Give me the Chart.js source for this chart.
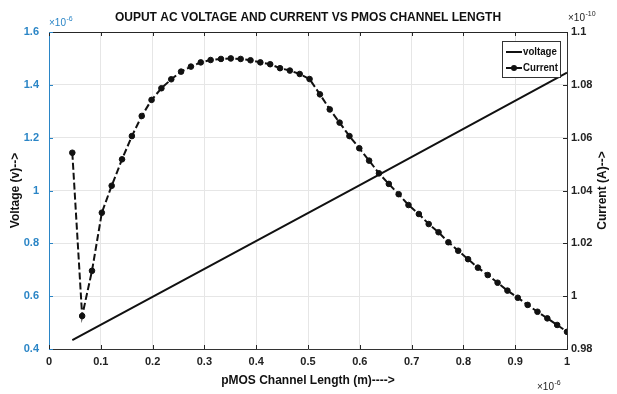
<!DOCTYPE html>
<html>
<head>
<meta charset="utf-8">
<script src="https://cdn.jsdelivr.net/npm/chart.js@4/dist/chart.umd.min.js"></script>
<style>
  html, body { margin: 0; padding: 0; background: #fff; }
  #wrap { width: 617px; height: 394px; }
</style>
</head>
<body>
<div id="wrap"><canvas id="c" width="617" height="394"></canvas></div>
<script>
// ---- data ----
const channelLength = [0.045, 0.064, 0.083, 0.102, 0.121, 0.141, 0.160, 0.179, 0.198, 0.217,
  0.236, 0.255, 0.274, 0.293, 0.312, 0.332, 0.351, 0.370, 0.389, 0.408,
  0.427, 0.446, 0.465, 0.484, 0.503, 0.523, 0.542, 0.561, 0.580, 0.599,
  0.618, 0.637, 0.656, 0.675, 0.694, 0.714, 0.733, 0.752, 0.771, 0.790,
  0.809, 0.828, 0.847, 0.866, 0.885, 0.905, 0.924, 0.943, 0.962, 0.981, 1.000];
const currentValues = [1.0543, 0.9925, 1.0096, 1.0316, 1.0418, 1.0518, 1.0606, 1.0682, 1.0743, 1.0787,
  1.0821, 1.0850, 1.0869, 1.0885, 1.0894, 1.0898, 1.0900, 1.0898, 1.0893, 1.0885,
  1.0878, 1.0863, 1.0854, 1.0841, 1.0822, 1.0764, 1.0707, 1.0657, 1.0606, 1.0560,
  1.0513, 1.0465, 1.0425, 1.0386, 1.0345, 1.0311, 1.0273, 1.0242, 1.0204, 1.0172,
  1.0140, 1.0108, 1.0080, 1.0051, 1.0021, 0.9994, 0.9967, 0.9941, 0.9916, 0.9891, 0.9865];
const voltageLength = [0.045, 0.6, 1.0];
const voltageValues = [0.434, 1.02, 1.446];
const xTickValues = [0, 0.1, 0.2, 0.3, 0.4, 0.5, 0.6, 0.7, 0.8, 0.9, 1];
const voltageTicks = [0.4, 0.6, 0.8, 1, 1.2, 1.4, 1.6];
const currentTicks = [0.98, 1, 1.02, 1.04, 1.06, 1.08, 1.1];
const titleText = 'OUPUT AC VOLTAGE AND CURRENT VS PMOS CHANNEL LENGTH';
const xTitle = 'pMOS Channel Length (m)---->';
const yTitle = 'Voltage (v)-->';
const y1Title = 'Current (A)-->';
const seriesNames = ['voltage', 'Current'];

const BLUE = '#2a85c6';
const FONT = '"Liberation Sans", Arial, sans-serif';
const fmt = v => String(+Number(v).toFixed(2));

const extrasPlugin = {
  id: 'extras',
  afterDraw(chart) {
    const ctx = chart.ctx;
    const a = chart.chartArea;
    ctx.save();
    // top border
    ctx.strokeStyle = '#262626';
    ctx.lineWidth = 1;
    ctx.beginPath();
    ctx.moveTo(a.left, a.top + 0.5);
    ctx.lineTo(a.right, a.top + 0.5);
    ctx.stroke();
    // inward tick marks
    const xs = chart.scales.x, ys = chart.scales.y, y1 = chart.scales.y1;
    ctx.beginPath();
    xs.ticks.forEach(t => {
      const px = Math.round(xs.getPixelForValue(t.value)) + 0.5;
      ctx.moveTo(px, a.bottom); ctx.lineTo(px, a.bottom - 4);
      ctx.moveTo(px, a.top); ctx.lineTo(px, a.top + 4);
    });
    y1.ticks.forEach(t => {
      const py = Math.round(y1.getPixelForValue(t.value)) + 0.5;
      ctx.moveTo(a.right, py); ctx.lineTo(a.right - 4, py);
    });
    ctx.stroke();
    ctx.strokeStyle = BLUE;
    ctx.beginPath();
    ys.ticks.forEach(t => {
      const py = Math.round(ys.getPixelForValue(t.value)) + 0.5;
      ctx.moveTo(a.left, py); ctx.lineTo(a.left + 4, py);
    });
    ctx.stroke();

    // title
    ctx.fillStyle = '#111';
    ctx.font = 'bold 12px ' + FONT;
    ctx.textAlign = 'center';
    ctx.textBaseline = 'middle';
    ctx.fillText(titleText, (a.left + a.right) / 2, 18);

    // right axis title (rotated -90)
    ctx.save();
    ctx.translate(603, (a.top + a.bottom) / 2);
    ctx.rotate(-Math.PI / 2);
    ctx.font = 'bold 12px ' + FONT;
    ctx.fillText(y1Title, 0, 0);
    ctx.restore();

    // exponent labels
    function expLabel(x, y, pow, color) {
      ctx.fillStyle = color;
      ctx.textAlign = 'left';
      ctx.textBaseline = 'alphabetic';
      ctx.font = '10px ' + FONT;
      ctx.fillText('\u00d710', x, y);
      const w = ctx.measureText('\u00d710').width;
      ctx.font = '7px ' + FONT;
      ctx.fillText(pow, x + w + 0.5, y - 5);
    }
    expLabel(a.left, 26, '-6', BLUE);
    expLabel(a.right + 1, 21, '-10', '#222');
    expLabel(a.right - 30, 390, '-6', '#222');

    // legend
    const lx = 502, ly = 41, lw = 58, lh = 36;
    ctx.fillStyle = '#fff';
    ctx.fillRect(lx, ly, lw, lh);
    ctx.strokeStyle = '#333';
    ctx.lineWidth = 1;
    ctx.strokeRect(lx + 0.5, ly + 0.5, lw, lh);
    ctx.strokeStyle = '#111';
    ctx.lineWidth = 2;
    ctx.beginPath();
    ctx.moveTo(lx + 4, ly + 11); ctx.lineTo(lx + 20, ly + 11);
    ctx.moveTo(lx + 4, ly + 27); ctx.lineTo(lx + 20, ly + 27);
    ctx.stroke();
    ctx.fillStyle = '#111';
    ctx.beginPath();
    ctx.arc(lx + 12, ly + 27, 3, 0, Math.PI * 2);
    ctx.fill();
    ctx.font = 'bold 11px ' + FONT;
    ctx.textAlign = 'left';
    ctx.textBaseline = 'middle';
    ctx.save();
    ctx.translate(lx + 21, ly + 11); ctx.scale(0.88, 1);
    ctx.fillText(seriesNames[0], 0, 0);
    ctx.restore();
    ctx.save();
    ctx.translate(lx + 21, ly + 27); ctx.scale(0.88, 1);
    ctx.fillText(seriesNames[1], 0, 0);
    ctx.restore();
    ctx.restore();
  }
};

new Chart(document.getElementById('c'), {
  type: 'scatter',
  data: {
    datasets: [
      {
        label: seriesNames[0],
        data: voltageLength.map((x, i) => ({ x, y: voltageValues[i] })),
        yAxisID: 'y',
        showLine: true,
        borderColor: '#111',
        borderWidth: 2,
        pointRadius: 0,
        fill: false,
        order: 2
      },
      {
        label: seriesNames[1],
        data: channelLength.map((x, i) => ({ x, y: currentValues[i] })),
        yAxisID: 'y1',
        showLine: true,
        borderColor: '#111',
        borderWidth: 2,
        borderDash: [7, 3],
        pointRadius: 2.8,
        pointBackgroundColor: '#111',
        pointBorderColor: '#111',
        pointBorderWidth: 1,
        fill: false,
        order: 1
      }
    ]
  },
  options: {
    responsive: false,
    animation: false,
    layout: { padding: { top: 32, left: 0, right: 0, bottom: 0 } },
    plugins: {
      legend: { display: false },
      title: { display: false },
      tooltip: { enabled: false }
    },
    scales: {
      x: {
        type: 'linear',
        min: 0, max: 1,
        afterBuildTicks: s => { s.ticks = xTickValues.map(v => ({ value: v })); },
        afterFit: s => { s.height = 45; },
        grid: { color: '#e6e6e6', drawTicks: false },
        border: { color: '#333', width: 1 },
        ticks: { color: '#222', padding: 6, callback: fmt, font: { family: FONT, size: 11, weight: 'bold' } },
        title: { display: true, text: xTitle, color: '#111', padding: { top: 0, bottom: 6 },
                 font: { family: FONT, size: 12, weight: 'bold' } }
      },
      y: {
        type: 'linear',
        position: 'left',
        min: 0.4, max: 1.6,
        afterBuildTicks: s => { s.ticks = voltageTicks.map(v => ({ value: v })); },
        afterFit: s => { s.width = 49; },
        grid: { color: '#e6e6e6', drawTicks: false },
        border: { color: BLUE, width: 1 },
        ticks: { color: BLUE, padding: 10, callback: fmt, font: { family: FONT, size: 11, weight: 'bold' } },
        title: { display: true, text: yTitle, color: '#111', padding: { top: 8, bottom: 0 },
                 font: { family: FONT, size: 12, weight: 'bold' } }
      },
      y1: {
        type: 'linear',
        position: 'right',
        min: 0.98, max: 1.1,
        afterBuildTicks: s => { s.ticks = currentTicks.map(v => ({ value: v })); },
        afterFit: s => { s.width = 50; },
        grid: { drawOnChartArea: false, drawTicks: false },
        border: { color: '#333', width: 1 },
        ticks: { color: '#222', padding: 4, callback: fmt, font: { family: FONT, size: 11, weight: 'bold' } }
      }
    }
  },
  plugins: [extrasPlugin]
});
</script>
</body>
</html>
